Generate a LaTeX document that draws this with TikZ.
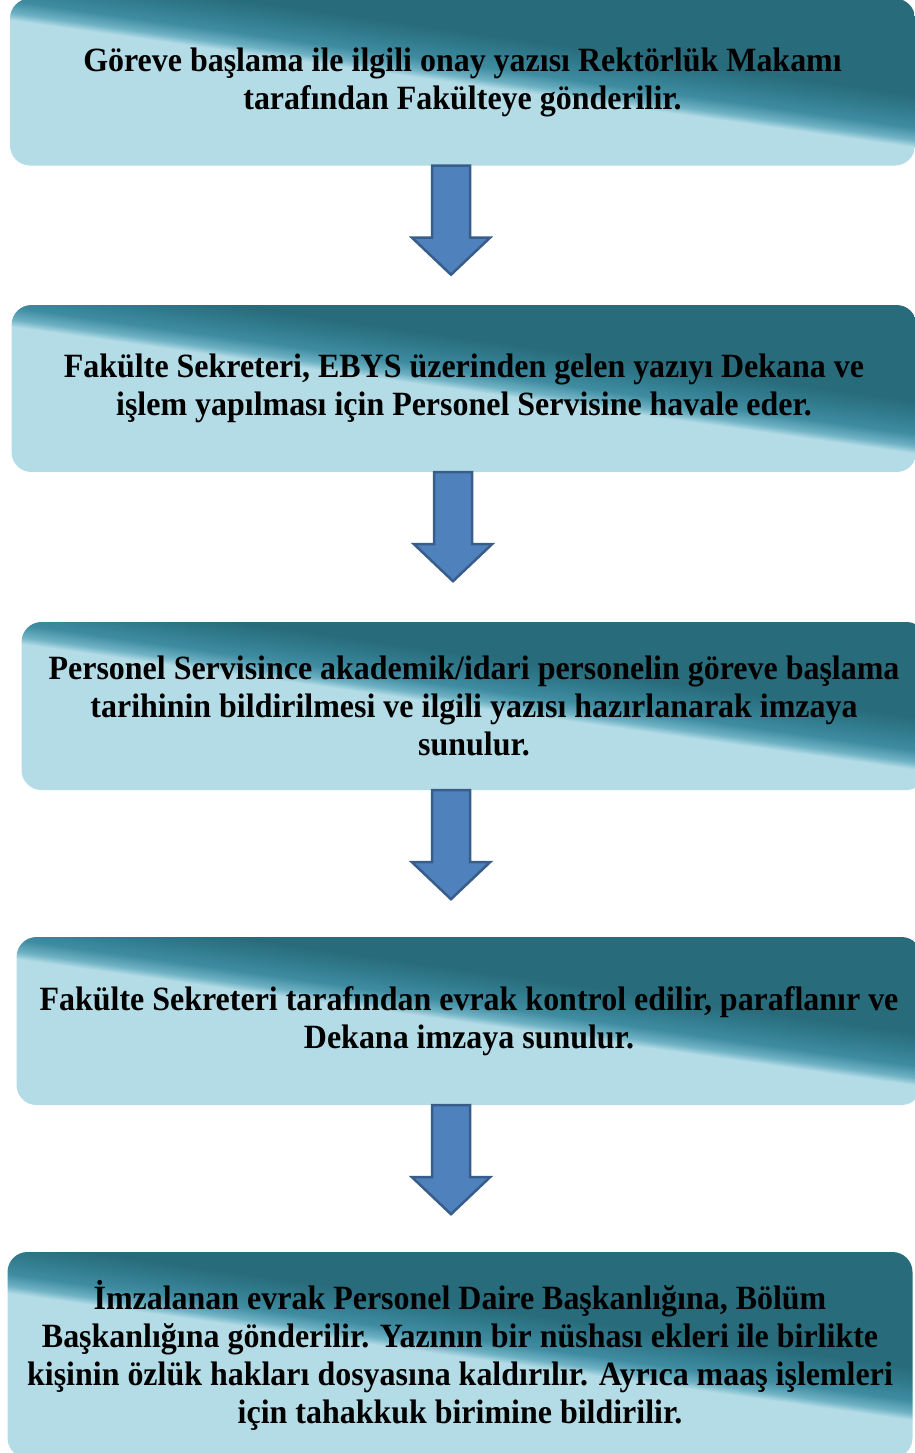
\documentclass[tikz,border=0pt]{standalone}
\usepackage{fontspec}
\setmainfont{Liberation Serif}[FakeStretch=0.94]
\definecolor{boxlight}{HTML}{B4DCE6}
\definecolor{boxsoft}{HTML}{6FB2C4}
\definecolor{boxmid}{HTML}{3F8CA1}
\definecolor{boxdeep}{HTML}{307A8C}
\definecolor{boxdark}{HTML}{286B7B}
\definecolor{arrowfill}{HTML}{4F81BD}
\definecolor{arrowline}{HTML}{385D8A}
% p = 16*(bp-50) px across the stripe, measured from the box centre
\pgfdeclareverticalshading{boxshade}{100bp}{color(0bp)=(boxlight); color(49.9bp)=(boxlight); color(50.35bp)=(boxsoft); color(51.1bp)=(boxmid); color(52.2bp)=(boxdeep); color(53.2bp)=(boxdark); color(100bp)=(boxdark)}
\tikzset{
  stepbox/.style={rounded corners=20pt, align=center,
    font=\bfseries\fontsize{34}{38}\selectfont, minimum width=905pt, inner sep=0pt,
    path picture={\shade[shading=boxshade, transform canvas={rotate around={-8:(path picture bounding box.center)}}]
      ([shift={(-650pt,-400pt)}]path picture bounding box.center) rectangle ([shift={(650pt,400pt)}]path picture bounding box.center);}},
  flowarrow/.style={fill=arrowfill, draw=arrowline, line width=2.5pt, line join=miter}
}
\newcommand{\fatarrow}[1]{%
  \draw[flowarrow] (#1) ++(-19,0) -- ++(38,0) -- ++(0,72) -- ++(20,0) -- ++(-39,37) -- ++(-39,-37) -- ++(20,0) -- cycle;}
\begin{document}
\begin{tikzpicture}[x=1pt, y=-1pt]
    \useasboundingbox (0,0) rectangle (915,1453);
    \clip (0,0) rectangle (915,1453);
    % process steps
    \node[stepbox, minimum height=167pt] (b1) at (462.5,82) {Göreve başlama ile ilgili onay yazısı Rektörlük Makamı\\tarafından Fakülteye gönderilir.};
    \node[stepbox, minimum height=167pt] (b2) at (464,388.5) {Fakülte Sekreteri, EBYS üzerinden gelen yazıyı Dekana ve\\işlem yapılması için Personel Servisine havale eder.};
    \node[stepbox, minimum height=168pt] (b3) at (474,706) {Personel Servisince akademik/idari personelin göreve başlama\\tarihinin bildirilmesi ve ilgili yazısı hazırlanarak imzaya\\sunulur.};
    \node[stepbox, minimum height=168pt] (b4) at (469,1021) {Fakülte Sekreteri tarafından evrak kontrol edilir, paraflanır ve\\Dekana imzaya sunulur.};
    \node[stepbox, minimum height=206pt] (b5) at (460,1355) {İmzalanan evrak Personel Daire Başkanlığına, Bölüm\\Başkanlığına gönderilir. Yazının bir nüshası ekleri ile birlikte\\kişinin özlük hakları dosyasına kaldırılır. Ayrıca maaş işlemleri\\için tahakkuk birimine bildirilir.};
    % arrows between the steps
    \coordinate (t1) at (b1.south -| 451,0);
    \coordinate (t2) at (b2.south -| 453,0);
    \coordinate (t3) at (b3.south -| 451,0);
    \coordinate (t4) at (b4.south -| 451,0);
    \fatarrow{t1} \fatarrow{t2} \fatarrow{t3} \fatarrow{t4}
\end{tikzpicture}
\end{document}
